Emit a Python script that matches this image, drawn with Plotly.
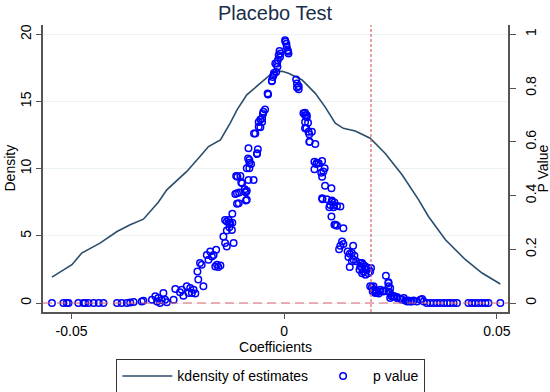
import plotly.graph_objects as go

# Kernel density of placebo estimates
kd_x = [-0.0546, -0.0499, -0.0476, -0.0456, -0.0433, -0.0393, -0.0362, -0.0331,
        -0.0296, -0.0276, -0.0229, -0.0198, -0.0178, -0.0150, -0.0127, -0.0111,
        -0.0088, -0.0056, -0.0033, -0.0021, -0.0005, 0.0010, 0.0042, 0.0073,
        0.0096, 0.0120, 0.0139, 0.0167, 0.0202, 0.0237, 0.0277, 0.0316, 0.0339,
        0.0379, 0.0426, 0.0465, 0.0508]
kd_y = [1.93, 2.85, 3.72, 4.09, 4.46, 5.32, 5.82, 6.24,
        7.5, 8.42, 9.79, 10.9, 11.64, 12.14, 13.38, 14.37,
        15.49, 16.36, 16.98, 17.22, 17.25, 17.1, 16.6, 15.6,
        14.6, 13.38, 13.0, 12.8, 12.26, 11.15, 9.54, 7.68, 6.44,
        4.71, 3.22, 2.23, 1.41]

# p values of placebo estimates
pv_x = [-0.0546, -0.0519, -0.0511, -0.0507, -0.0484, -0.0472, -0.0468, -0.0460,
        -0.0448, -0.0436, -0.0425, -0.0393, -0.0382, -0.0370, -0.0362, -0.0354,
        -0.0335, -0.0331,
        -0.0311, -0.0303, -0.0299, -0.0296, -0.0292, -0.0288, -0.0284, -0.0280,
        -0.0276, -0.0260, -0.0256, -0.0245, -0.0241, -0.0237, -0.0229, -0.0225,
        -0.0221, -0.0217, -0.0213, -0.0209, -0.0204, -0.0202, -0.0198, -0.0194,
        -0.0190, -0.0182, -0.0178, -0.0174, -0.0170, -0.0166, -0.0162, -0.0160,
        -0.0158, -0.0155, -0.0150, -0.0143, -0.0139, -0.0135, -0.0139, -0.0135,
        -0.0131, -0.0129, -0.0127, -0.0123, -0.0135, -0.0129, -0.0122, -0.0122,
        -0.0119, -0.0115, -0.0111, -0.0111, -0.0107, -0.0106, -0.0113, -0.0110,
        -0.0103, -0.0101, -0.0099, -0.0093, -0.0092, -0.0090, -0.0090, -0.0088,
        -0.0088, -0.0088, -0.0084, -0.0084, -0.0085, -0.0082, -0.0082, -0.0078,
        -0.0082, -0.0072, -0.0071, -0.0068, -0.0064, -0.0064, -0.0062, -0.0060,
        -0.0060, -0.0056, -0.0056, -0.0052, -0.0052, -0.0050, -0.0049, -0.0045,
        -0.0039, -0.0038, -0.0029, -0.0029, -0.0027, -0.0025, -0.0024, -0.0019,
        -0.0021, -0.0017, -0.0016, -0.0015, -0.0013, -0.0011, -0.0009, -0.0010,
        0.0002, 0.0003, 0.0005, 0.0006, 0.0008, 0.0010, 0.0009,
        0.0028, 0.0030, 0.0034, 0.0030, 0.0034, 0.0045, 0.0049, 0.0053, 0.0049,
        0.0053, 0.0056, 0.0049, 0.0049, 0.0052, 0.0057, 0.0065, 0.0059, 0.0059,
        0.0060, 0.0073, 0.0071, 0.0077, 0.0081, 0.0089, 0.0075, 0.0071, 0.0095,
        0.0092, 0.0087, 0.0089, 0.0096, 0.0111, 0.0090, 0.0089, 0.0100, 0.0112,
        0.0112, 0.0118, 0.0116, 0.0108, 0.0124, 0.0132, 0.0116, 0.0106, 0.0111,
        0.0121, 0.0124, 0.0118, 0.0139, 0.0136, 0.0139, 0.0132, 0.0129, 0.0162,
        0.0149, 0.0154, 0.0159, 0.0165, 0.0151, 0.0163, 0.0169, 0.0159, 0.0183,
        0.0179, 0.0186, 0.0179, 0.0191, 0.0183, 0.0177, 0.0198, 0.0204, 0.0186,
        0.0194, 0.0183, 0.0202, 0.0191, 0.0198, 0.0154, 0.0202, 0.0206, 0.0210,
        0.0214, 0.0208, 0.0217, 0.0225, 0.0233, 0.0222, 0.0214, 0.0239, 0.0245,
        0.0245, 0.0249, 0.0245, 0.0251, 0.0253, 0.0259, 0.0265, 0.0249, 0.0210,
        0.0217, 0.0226, 0.0233, 0.0245, 0.0249, 0.0257, 0.0265, 0.0273, 0.0277,
        0.0281, 0.0285, 0.0289, 0.0292, 0.0296, 0.0300, 0.0304, 0.0312, 0.0320,
        0.0324, 0.0328,
        0.0335, 0.0343, 0.0351, 0.0359, 0.0367, 0.0375, 0.0383, 0.0390, 0.0398,
        0.0406, 0.0433, 0.0441, 0.0449, 0.0457, 0.0465, 0.0473, 0.0480, 0.0508]
pv_y = [0.0, 0.0, 0.0, 0.0, 0.0, 0.0, 0.0, 0.0,
        0.0, 0.0, 0.0, 0.0, 0.0, 0.0, 0.002, 0.004,
        0.006, 0.008,
        0.012, 0.025, 0.006, 0.019, 0.0, 0.010, 0.037, 0.012,
        0.003, 0.012, 0.052, 0.040, 0.049, 0.027, 0.062, 0.037,
        0.056, 0.037, 0.049, 0.035, 0.117, 0.087, 0.149, 0.142,
        0.062, 0.179, 0.161, 0.192, 0.173, 0.179, 0.136, 0.198,
        0.142, 0.134, 0.140, 0.247, 0.223, 0.210, 0.309, 0.303,
        0.309, 0.299, 0.297, 0.272, 0.270, 0.282, 0.332, 0.299,
        0.223, 0.406, 0.408, 0.369, 0.371, 0.411, 0.473, 0.470,
        0.473, 0.448, 0.446, 0.423, 0.414, 0.412, 0.381, 0.418,
        0.384, 0.501, 0.458, 0.576, 0.538, 0.522, 0.532, 0.517,
        0.501, 0.458, 0.631, 0.631, 0.554, 0.557, 0.572, 0.656,
        0.674, 0.683, 0.654, 0.674, 0.687, 0.703, 0.712, 0.720,
        0.780, 0.776, 0.827, 0.825, 0.841, 0.848, 0.856, 0.860,
        0.891, 0.891, 0.879, 0.903, 0.922, 0.938, 0.928, 0.915,
        0.978, 0.972, 0.965, 0.953, 0.941, 0.928, 0.935,
        0.832, 0.817, 0.807, 0.802, 0.795, 0.706, 0.708, 0.699, 0.699,
        0.691, 0.671, 0.674, 0.650, 0.650, 0.637, 0.637, 0.628, 0.600,
        0.600, 0.592, 0.526, 0.522, 0.520, 0.528, 0.517, 0.498, 0.501,
        0.489, 0.485, 0.470, 0.436, 0.427, 0.386, 0.390, 0.386, 0.381,
        0.377, 0.374, 0.365, 0.365, 0.361, 0.359, 0.356, 0.356, 0.322,
        0.291, 0.287, 0.291, 0.278, 0.229, 0.220, 0.213, 0.200, 0.213,
        0.192, 0.183, 0.186, 0.176, 0.171, 0.161, 0.155, 0.155, 0.149,
        0.149, 0.142, 0.136, 0.136, 0.130, 0.124, 0.130, 0.130, 0.117,
        0.124, 0.111, 0.117, 0.105, 0.111, 0.134, 0.062, 0.059, 0.062,
        0.047, 0.043, 0.039, 0.043, 0.043, 0.035, 0.037, 0.101, 0.077,
        0.074, 0.056, 0.043, 0.027, 0.025, 0.025, 0.022, 0.019, 0.049,
        0.046, 0.049, 0.046, 0.062, 0.037, 0.025, 0.019, 0.016, 0.012,
        0.019, 0.009, 0.006, 0.009, 0.006, 0.006, 0.009, 0.006, 0.012,
        0.015, 0.006,
        0.0, 0.0, 0.0, 0.0, 0.0, 0.0, 0.0, 0.0, 0.0,
        0.0, 0.0, 0.0, 0.0, 0.0, 0.0, 0.0, 0.0, 0.0]

true_estimate = 0.0204   # vertical reference line
p_ref = 0.0              # horizontal reference line

x_ticks = [-0.05, 0, 0.05]
x_ticktext = ["-0.05", "0", "0.05"]
y1_ticks = [0, 5, 10, 15, 20]
y2_ticks = [0, 0.2, 0.4, 0.6, 0.8, 1]
y2_ticktext = ["0", "0.2", "0.4", "0.6", "0.8", "1"]

FONT = "Liberation Sans, Arial, sans-serif"
AXIS_COL = "#555555"
REF_COL = "#dc6470"

fig = go.Figure()
fig.add_trace(go.Scatter(x=kd_x, y=kd_y, mode="lines", name="kdensity of estimates",
                         line=dict(color="#2a4d6b", width=1.6), yaxis="y"))
fig.add_trace(go.Scatter(x=pv_x, y=pv_y, mode="markers", name="p value",
                         marker=dict(symbol="circle-open", size=6.5, color="#0000ff",
                                     line=dict(width=1.5, color="#0000ff")),
                         yaxis="y2"))

fig.add_shape(type="line", xref="x", yref="paper", x0=true_estimate, x1=true_estimate,
              y0=0, y1=1, line=dict(color=REF_COL, width=1.2, dash="3px,2px"))
fig.add_shape(type="line", xref="paper", yref="y2", x0=0, x1=1, y0=p_ref, y1=p_ref,
              line=dict(color=REF_COL, width=1.2, dash="9px,5px"))

# axis titles placed as rotated annotations (pixel offsets from the plot area)
fig.add_annotation(text="Density", xref="paper", yref="paper", x=0, y=0.5,
                   xanchor="center", yanchor="middle",
                   xshift=-34, textangle=-90, showarrow=False,
                   font=dict(family=FONT, size=14, color="black"))
fig.add_annotation(text="P Value", xref="paper", yref="paper", x=1, y=0.5,
                   xanchor="center", yanchor="middle",
                   xshift=34, textangle=-90, showarrow=False,
                   font=dict(family=FONT, size=14, color="black"))

fig.update_layout(
    width=550, height=392,
    margin=dict(l=43, r=42, t=25, b=80, autoexpand=False),
    paper_bgcolor="white", plot_bgcolor="white",
    font=dict(family=FONT, size=14, color="black"),
    title=dict(text="Placebo Test", x=0.5, xanchor="center", y=0.966, yanchor="middle",
               font=dict(family=FONT, size=20, color="#1a2e4a")),
    showlegend=True,
    legend=dict(orientation="h", x=0.49, xanchor="center", y=-0.165, yanchor="top",
                bordercolor="#333333", borderwidth=1, font=dict(size=14),
                itemwidth=50),
    xaxis=dict(range=[-0.0567, 0.0526], tickvals=x_ticks, ticktext=x_ticktext,
               showgrid=False, zeroline=False, showline=True, linecolor=AXIS_COL,
               linewidth=1.5, ticks="outside", ticklen=5, tickcolor=AXIS_COL,
               automargin=False, tickfont=dict(size=14),
               title=dict(text="Coefficients", standoff=3,
                          font=dict(family=FONT, size=14, color="black"))),
    yaxis=dict(range=[-0.669, 20.69], tickvals=y1_ticks, tickangle=-90,
               showgrid=True, gridcolor="#eaf2f3", gridwidth=1, zeroline=False,
               showline=True, linecolor=AXIS_COL, linewidth=1.5, ticks="outside",
               ticklen=5, tickcolor=AXIS_COL, ticklabelstandoff=0, automargin=False),
    yaxis2=dict(range=[-0.0335, 1.0345], tickvals=y2_ticks, ticktext=y2_ticktext,
                tickangle=-90, overlaying="y", side="right", showgrid=False,
                zeroline=False, showline=True, linecolor=AXIS_COL, linewidth=1.5,
                ticks="outside", ticklen=6, tickcolor=AXIS_COL, ticklabelstandoff=3,
                automargin=False),
)

fig.write_html("out.html", config={"displayModeBar": False},
               post_script="document.body.style.margin='0';document.body.style.overflow='hidden';")
